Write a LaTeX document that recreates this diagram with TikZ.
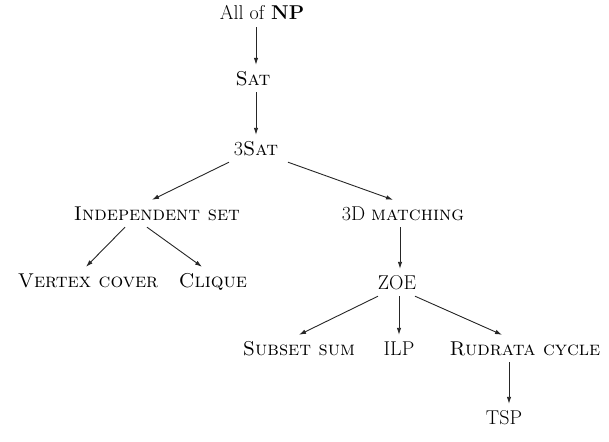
\documentclass[tikz,border=0pt]{standalone}
\usetikzlibrary{arrows.meta}
\begin{document}
\begin{tikzpicture}[x=1pt,y=-1pt,
  prob/.style={font=\fontsize{20}{24}\selectfont, inner xsep=0pt, inner ysep=7pt,
    text height=13pt, text depth=0pt, anchor=base},
  red/.style={draw=black!85, line width=0.9pt, -{Latex[length=7pt,width=4.5pt]}}]
\useasboundingbox (0,0) rectangle (609,441);
\node[prob] (np) at (262,20) {All of \textbf{NP}};
\node[prob] (sat) at (253,85) {\textsc{Sat}};
\node[prob] (sat3) at (256,155) {3\textsc{Sat}};
\node[prob] (is) at (157,220) {\textsc{Independent set}};
\node[prob] (tdm) at (403,220) {3D \textsc{matching}};
\node[prob] (vc) at (88,287) {\textsc{Vertex cover}};
\node[prob] (cl) at (213,287) {\textsc{Clique}};
\node[prob] (zoe) at (397,289) {ZOE};
\node[prob] (ss) at (299,355) {\textsc{Subset sum}};
\node[prob] (ilp) at (399,355) {ILP};
\node[prob] (rc) at (525,355) {\textsc{Rudrata cycle}};
\node[prob] (tsp) at (504,424) {TSP};

\draw[red] ([xshift=-6pt]np.south) -- ([xshift=3pt]sat.north);
\draw[red] ([xshift=3pt]sat.south) -- (sat3.north);
\draw[red] ([xshift=-27pt]sat3.south) -- ([xshift=-5pt]is.north);
\draw[red] ([xshift=32pt]sat3.south) -- ([xshift=-10pt]tdm.north);
\draw[red] ([xshift=-32pt]is.south) -- ([xshift=-2pt]vc.north);
\draw[red] ([xshift=-10pt]is.south) -- ([xshift=-11pt]cl.north);
\draw[red] ([xshift=-3pt]tdm.south) -- ([xshift=3pt]zoe.north);
\draw[red] ([xshift=-19pt]zoe.south) -- (ss.north);
\draw[red] ([xshift=2pt]zoe.south) -- (ilp.north);
\draw[red] ([xshift=18pt]zoe.south) -- ([xshift=-23pt]rc.north);
\draw[red] ([xshift=-16pt]rc.south) -- ([xshift=5pt]tsp.north);
\end{tikzpicture}
\end{document}
